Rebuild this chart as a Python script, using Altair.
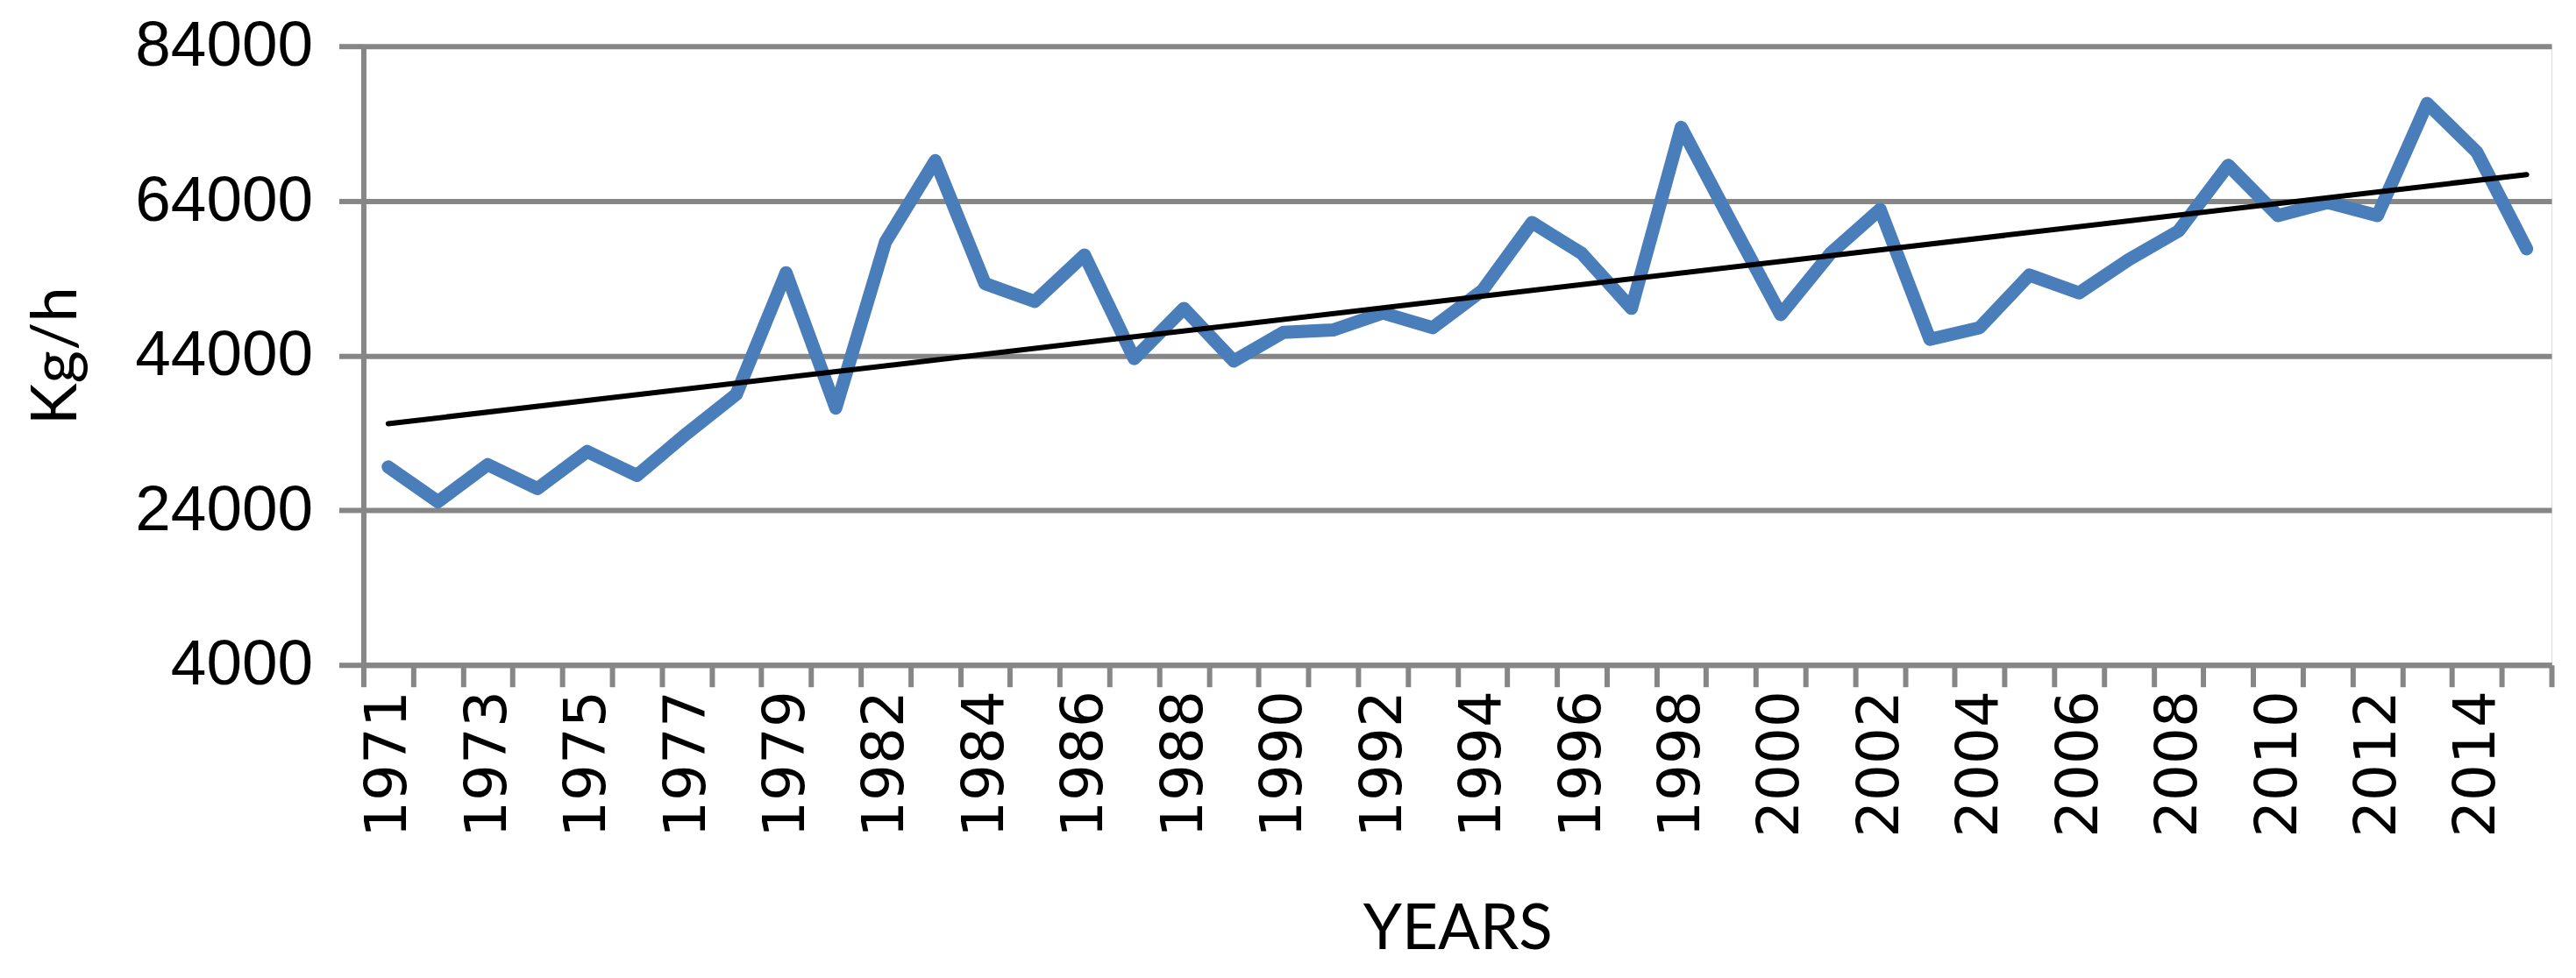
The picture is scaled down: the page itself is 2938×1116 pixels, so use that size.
import altair as alt
import pandas as pd
import numpy as np

years = ["1971", "1972", "1973", "1974", "1975", "1976", "1977", "1978", "1979",
         "1980",
         "1982", "1983", "1984", "1985", "1986", "1987", "1988", "1989", "1990",
         "1991", "1992", "1993", "1994", "1995", "1996", "1997", "1998", "1999",
         "2000", "2001", "2002", "2003", "2004", "2005", "2006", "2007", "2008",
         "2009", "2010", "2011", "2012", "2013", "2014", "2015"]
values = [29600, 25100, 29900, 26800, 31600, 28500, 33900, 39000, 54700,
          37200,
          58700, 69200, 53300, 51000, 57000, 43600, 50100, 43300, 47000,
          47300, 49500, 47600, 52400, 61200, 57200, 50100, 73500, 61300,
          49300, 57200, 62900, 46100, 47600, 54400, 52100, 56400, 60100,
          68600, 62100, 63800, 62100, 76600, 70300, 57800]
y_ticks = [4000, 24000, 44000, 64000, 84000]
labelled_years = years[::2]

df = pd.DataFrame({"year": years, "value": values})

# linear trend line (least squares over category index, like a spreadsheet trendline)
idx = np.arange(len(values))
slope, intercept = np.polyfit(idx, values, 1)
trend_df = pd.DataFrame({
    "year": [years[0], years[-1]],
    "value": [intercept, intercept + slope * (len(values) - 1)],
})

GRID = "#868686"
PLOT_W = 2499
PLOT_H = 707
label_expr = "indexof(" + str(labelled_years) + ", datum.value) >= 0 ? datum.value : ''"

x_enc = alt.X(
    "year:O",
    sort=years,
    bandPosition=0.5,
    scale=alt.Scale(type="band", paddingInner=0, paddingOuter=0),
    axis=alt.Axis(
        tickBand="extent",
        labelAngle=270,
        labelAlign="right",
        labelBaseline="middle",
        labelExpr=label_expr,
        labelFont="DejaVu Sans",
        labelFontSize=66,
        labelColor="#000000",
        labelPadding=4,
        labelLimit=0,
        domainColor=GRID,
        domainWidth=6,
        tickColor=GRID,
        tickWidth=6,
        tickSize=25,
        grid=False,
        title="YEARS",
        titleFont="Lato",
        titleFontSize=71,
        titleFontWeight="normal",
        titleColor="#000000",
        titlePadding=71,
    ),
)

y_enc = alt.Y(
    "value:Q",
    scale=alt.Scale(domain=[4000, 84000], nice=False, zero=False),
    axis=alt.Axis(
        values=y_ticks,
        grid=True,
        gridColor=GRID,
        gridWidth=6,
        domainColor=GRID,
        domainWidth=6,
        tickColor=GRID,
        tickWidth=6,
        tickSize=28,
        labelFont="Liberation Sans",
        labelFontSize=73,
        labelColor="#000000",
        labelPadding=30,
        labelLimit=0,
        format="d",
        title="Kg/h",
        titleFont="Lato",
        titleFontSize=72,
        titleFontWeight="normal",
        titleColor="#000000",
        titleAngle=270,
        titleAlign="center",
        titleBaseline="bottom",
        titleX=-313,
        titleY=PLOT_H / 2,
    ),
)

series = alt.Chart(df).mark_line(
    color="#4A7EBB", strokeWidth=15, strokeJoin="round", strokeCap="round"
).encode(x=x_enc, y=y_enc)

trend = alt.Chart(trend_df).mark_line(
    color="#000000", strokeWidth=6, strokeCap="round"
).encode(
    x=alt.X("year:O", sort=years, bandPosition=0.5),
    y=alt.Y("value:Q"),
)

chart = alt.layer(series, trend).properties(
    width=PLOT_W,
    height=PLOT_H,
    autosize=alt.AutoSizeParams(type="none"),
    padding={"left": 407, "top": 44, "right": 20, "bottom": 348},
).configure_view(stroke=None).configure(background="#ffffff")

chart.save("out.html", embed_options={"renderer": "svg", "actions": False})
